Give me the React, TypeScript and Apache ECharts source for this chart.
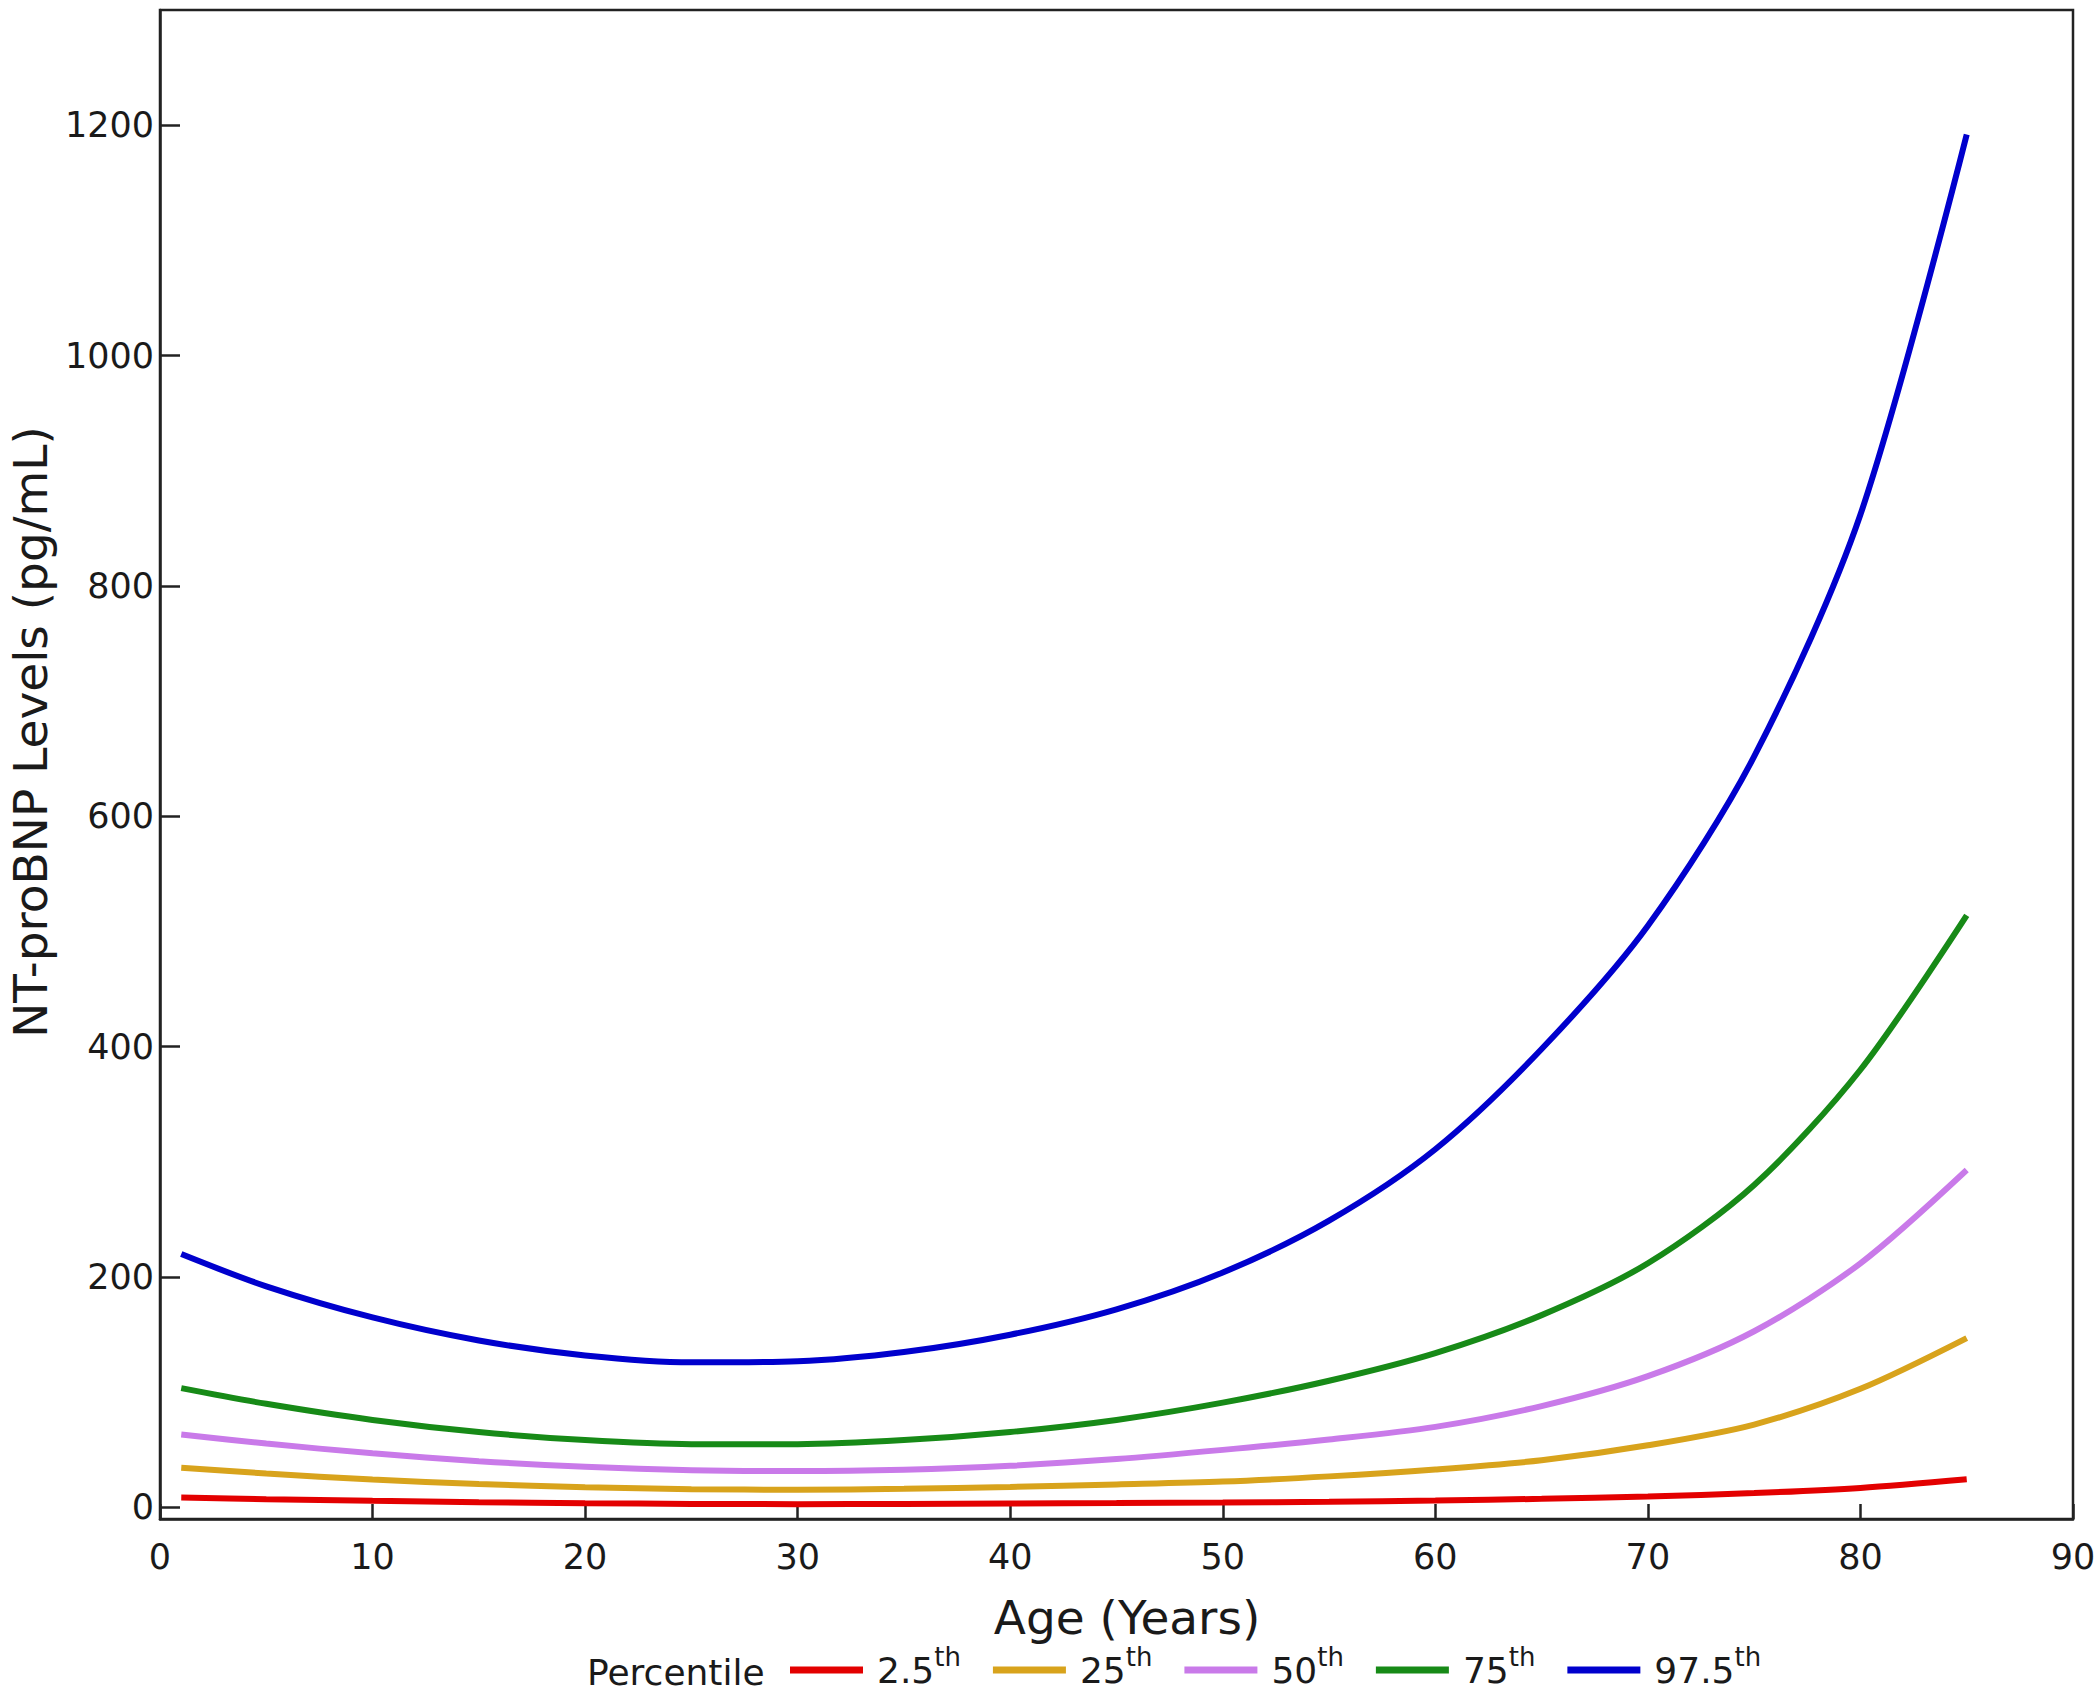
import React, { useEffect, useRef } from "react";
import * as echarts from "echarts";

const ages = [1, 5, 10, 15, 20, 25, 30, 35, 40, 45, 50, 55, 60, 65, 70, 75, 80, 85];
const p025 = [8.6, 7.2, 5.8, 4.6, 3.7, 3.1, 2.9, 3.0, 3.5, 3.8, 4.3, 5, 6, 7.5, 9.5, 12.5, 17, 24.5];
const p25 = [34.5, 29.5, 24.2, 20.4, 17.6, 15.9, 15.4, 16.2, 17.8, 20, 22.5, 27, 33, 41, 54, 72, 103, 147];
const p50 = [63.3, 55.5, 47, 40.2, 35.3, 32.4, 31.6, 32.8, 36.2, 42, 50, 59, 70, 88, 114, 153, 212, 293];
const p75 = [103.6, 90, 76, 65.5, 58.5, 55, 55, 58.5, 65.5, 76, 91, 110, 134, 167, 212, 280, 380, 514];
const p975 = [220, 192, 165, 145, 132, 126, 127, 135, 150, 172, 204, 249, 311, 398, 505, 652, 862, 1192];

const seriesNames = ["2.5", "25", "50", "75", "97.5"];
const seriesValues = [p025, p25, p50, p75, p975];
const seriesColors = ["#e30000", "#d8a31c", "#c97ae9", "#178a17", "#0000cd"];

const yTicks = [0, 200, 400, 600, 800, 1000, 1200];
const xTitle = "Age (Years)";
const yTitle = "NT-proBNP Levels (pg/mL)";
const legendTitle = "Percentile";

const FONT = "DejaVu Sans";
const TEXT = "#1a1a1a";

export default function App() {
  const ref = useRef<HTMLDivElement>(null);

  useEffect(() => {
    document.body.style.margin = "0";
    const chart = echarts.init(ref.current!, null, { renderer: "svg" });
    const option: any = {
      animation: false,
      backgroundColor: "#ffffff",
      grid: {
        left: 160,
        right: 27,
        top: 10,
        bottom: 174,
        show: true,
        borderColor: "#222",
        borderWidth: 2.5,
        backgroundColor: "transparent",
      },
      xAxis: {
        type: "value",
        min: 0,
        max: 90,
        interval: 10,
        axisLine: { show: true, onZero: false, lineStyle: { color: "#222", width: 2.5 } },
        axisTick: { show: true, inside: true, length: 15, lineStyle: { color: "#222", width: 2.5 } },
        axisLabel: { fontSize: 35, fontFamily: FONT, color: TEXT, margin: 20 },
        splitLine: { show: false },
      },
      yAxis: {
        type: "value",
        min: -10,
        max: 1300,
        axisLine: { show: true, onZero: false, lineStyle: { color: "#222", width: 2.5 } },
        axisTick: {
          show: true,
          inside: true,
          length: 20,
          customValues: yTicks,
          lineStyle: { color: "#222", width: 2.5 },
        },
        axisLabel: {
          fontSize: 35,
          fontFamily: FONT,
          color: TEXT,
          margin: 6,
          customValues: yTicks,
          formatter: (v: number) => String(v),
        },
        splitLine: { show: false },
      },
      legend: {
        left: 790,
        top: 1644,
        padding: 0,
        icon: "rect",
        itemWidth: 73,
        itemHeight: 7,
        itemGap: 32,
        data: seriesNames,
        formatter: (name: string) => `{n|${name}}{s|th}`,
        textStyle: {
          fontFamily: FONT,
          color: TEXT,
          rich: {
            n: { fontSize: 36, fontFamily: FONT, color: TEXT, lineHeight: 36, verticalAlign: "bottom", padding: [0, 0, 0, 9] },
            s: { fontSize: 26, fontFamily: FONT, color: TEXT, lineHeight: 26, verticalAlign: "bottom", padding: [0, 0, 18, 0] },
          },
        },
      },
      graphic: [
        {
          type: "text",
          x: 30,
          y: 732,
          rotation: Math.PI / 2,
          style: { text: yTitle, fontSize: 47, fontFamily: FONT, fill: TEXT, textAlign: "center", textVerticalAlign: "middle" },
        },
        {
          type: "text",
          x: 1127,
          y: 1617,
          style: { text: xTitle, fontSize: 47, fontFamily: FONT, fill: TEXT, textAlign: "center", textVerticalAlign: "middle" },
        },
        {
          type: "text",
          x: 587,
          y: 1672,
          style: { text: legendTitle, fontSize: 36, fontFamily: FONT, fill: TEXT, textAlign: "left", textVerticalAlign: "middle" },
        },
      ],
      series: seriesNames.map((name, i) => ({
        name,
        type: "line",
        smooth: 0.3,
        showSymbol: false,
        symbol: "none",
        color: seriesColors[i],
        lineStyle: { width: 6, color: seriesColors[i] },
        data: ages.map((a, j) => [a, seriesValues[i][j]]),
      })),
    };
    chart.setOption(option);
    return () => chart.dispose();
  }, []);

  return <div ref={ref} style={{ width: 2100, height: 1693 }} />;
}
